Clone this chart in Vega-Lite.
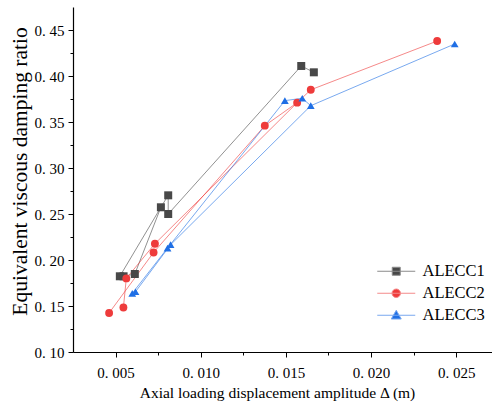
{
  "$schema": "https://vega.github.io/schema/vega-lite/v6.json",
  "autosize": {"type": "none"},
  "padding": {"left": 73, "top": 7, "right": 0, "bottom": 51},
  "width": 419,
  "height": 345,
  "background": "white",
  "config": {"view": {"stroke": null},
    "legend": {
      "title": null, "orient": "none", "legendX": 315, "legendY": 256,
      "labelFont": "Liberation Serif", "labelFontSize": 16.5, "labelColor": "black",
      "labelOffset": 18, "rowPadding": 5, "symbolSize": 100, "padding": 0,
      "symbolOpacity": 1, "symbolStrokeWidth": 1
    }},
  "data": {"values": [
    {"series": "ALECC1", "branch": "1b", "ord": 1, "pt": 1, "x": 0.00525, "y": 0.1823},
    {"series": "ALECC1", "branch": "1b", "ord": 2, "pt": 0, "x": 0.00766, "y": 0.2573},
    {"series": "ALECC1", "branch": "1a", "ord": 1, "pt": 1, "x": 0.00547, "y": 0.1823},
    {"series": "ALECC1", "branch": "1a", "ord": 2, "pt": 1, "x": 0.00613, "y": 0.1848},
    {"series": "ALECC1", "branch": "1a", "ord": 3, "pt": 1, "x": 0.00766, "y": 0.2573},
    {"series": "ALECC1", "branch": "1a", "ord": 4, "pt": 1, "x": 0.00809, "y": 0.2703},
    {"series": "ALECC1", "branch": "1a", "ord": 5, "pt": 1, "x": 0.00809, "y": 0.2500},
    {"series": "ALECC1", "branch": "1a", "ord": 6, "pt": 1, "x": 0.01590, "y": 0.4109},
    {"series": "ALECC1", "branch": "1a", "ord": 7, "pt": 1, "x": 0.01664, "y": 0.4040},
    {"series": "ALECC2", "branch": "2a", "ord": 1, "pt": 1, "x": 0.00546, "y": 0.1484},
    {"series": "ALECC2", "branch": "2a", "ord": 2, "pt": 1, "x": 0.00563, "y": 0.1800},
    {"series": "ALECC2", "branch": "2a", "ord": 3, "pt": 1, "x": 0.00731, "y": 0.2177},
    {"series": "ALECC2", "branch": "2a", "ord": 4, "pt": 1, "x": 0.01566, "y": 0.3710},
    {"series": "ALECC2", "branch": "2a", "ord": 5, "pt": 1, "x": 0.01646, "y": 0.3850},
    {"series": "ALECC2", "branch": "2a", "ord": 6, "pt": 1, "x": 0.02388, "y": 0.4380},
    {"series": "ALECC2", "branch": "2b", "ord": 1, "pt": 1, "x": 0.00462, "y": 0.1424},
    {"series": "ALECC2", "branch": "2b", "ord": 2, "pt": 1, "x": 0.00723, "y": 0.2082},
    {"series": "ALECC2", "branch": "2b", "ord": 3, "pt": 1, "x": 0.01376, "y": 0.3460},
    {"series": "ALECC2", "branch": "2b", "ord": 4, "pt": 0, "x": 0.01566, "y": 0.3710},
    {"series": "ALECC3", "branch": "3a", "ord": 1, "pt": 1, "x": 0.00598, "y": 0.1638},
    {"series": "ALECC3", "branch": "3a", "ord": 2, "pt": 1, "x": 0.00805, "y": 0.2130},
    {"series": "ALECC3", "branch": "3a", "ord": 3, "pt": 1, "x": 0.01494, "y": 0.3732},
    {"series": "ALECC3", "branch": "3a", "ord": 4, "pt": 1, "x": 0.01596, "y": 0.3758},
    {"series": "ALECC3", "branch": "3a", "ord": 5, "pt": 1, "x": 0.01646, "y": 0.3677},
    {"series": "ALECC3", "branch": "3a", "ord": 6, "pt": 1, "x": 0.02491, "y": 0.4348},
    {"series": "ALECC3", "branch": "3b", "ord": 1, "pt": 1, "x": 0.00617, "y": 0.1655},
    {"series": "ALECC3", "branch": "3b", "ord": 2, "pt": 1, "x": 0.00823, "y": 0.2166},
    {"series": "ALECC3", "branch": "3b", "ord": 3, "pt": 0, "x": 0.01646, "y": 0.3677}
  ]},
  "layer": [
    {
      "mark": {"type": "line", "strokeWidth": 1, "opacity": 0.6, "clip": true},
      "encoding": {
        "x": {"field": "x", "type": "quantitative",
          "scale": {"domain": [0.0025, 0.0271], "nice": false, "zero": false},
          "axis": {"orient": "bottom", "values": [0.0075, 0.0125, 0.0175, 0.0225], "labels": false, "domain": false, "grid": false, "tickSize": 3, "tickColor": "black", "title": null}},
        "y": {"field": "y", "type": "quantitative",
          "scale": {"domain": [0.10, 0.475], "nice": false, "zero": false},
          "axis": {"orient": "left", "values": [0.125, 0.175, 0.225, 0.275, 0.325, 0.375, 0.425], "labels": false, "domain": false, "grid": false, "tickSize": 3, "tickColor": "black", "title": null}},
        "color": {"field": "series", "type": "nominal",
          "scale": {"domain": ["ALECC1", "ALECC2", "ALECC3"], "range": ["#484848", "#ee3b3b", "#1f6fe5"]}, "legend": null},
        "detail": {"field": "branch"},
        "order": {"field": "ord", "type": "quantitative"}
      }
    },
    {
      "transform": [{"filter": "datum.pt == 1"}],
      "mark": {"type": "point", "filled": true, "opacity": 1},
      "encoding": {
        "x": {"field": "x", "type": "quantitative",
          "axis": {"orient": "bottom", "values": [0.005, 0.01, 0.015, 0.02, 0.025], "grid": false,
            "labelExpr": "replace(format(datum.value, '.3f'), '.', '. ')",
            "labelFont": "Liberation Serif", "labelFontSize": 15, "labelColor": "black", "labelPadding": 8,
            "tickSize": 5, "tickColor": "black", "domainColor": "black", "domainWidth": 1.2,
            "title": "Axial loading displacement amplitude Δ (m)",
            "titleFont": "Liberation Serif", "titleFontSize": 15.5, "titleFontWeight": "normal", "titleColor": "black",
            "titleX": 204, "titleY": 40, "titleBaseline": "middle", "titleAlign": "center"}},
        "y": {"field": "y", "type": "quantitative",
          "axis": {"orient": "left", "values": [0.1, 0.15, 0.2, 0.25, 0.3, 0.35, 0.4, 0.45], "grid": false,
            "labelExpr": "replace(format(datum.value, '.2f'), '.', '. ')",
            "labelFont": "Liberation Serif", "labelFontSize": 15, "labelColor": "black", "labelPadding": 4,
            "tickSize": 5, "tickColor": "black", "domainColor": "black", "domainWidth": 1.2,
            "title": "Equivalent viscous damping ratio",
            "titleFont": "Liberation Serif", "titleFontSize": 21.5, "titleFontWeight": "normal", "titleColor": "black",
            "titleX": -53, "titleY": 164, "titleBaseline": "middle", "titleAlign": "center", "titleAngle": -90}},
        "color": {"field": "series", "type": "nominal",
          "scale": {"domain": ["ALECC1", "ALECC2", "ALECC3"], "range": ["#484848", "#ee3b3b", "#1f6fe5"]}, "legend": null},
        "shape": {"field": "series", "type": "nominal",
          "scale": {"domain": ["ALECC1", "ALECC2", "ALECC3"], "range": ["square", "circle", "triangle-up"]}, "legend": null},
        "size": {"field": "series", "type": "ordinal",
          "scale": {"domain": ["ALECC1", "ALECC2", "ALECC3"], "range": [64, 60, 110]}, "legend": null}
      }
    },
    {
      "transform": [{"filter": "false"}],
      "mark": {"type": "point", "filled": true, "opacity": 1, "size": 100, "strokeWidth": 1},
      "encoding": {
        "x": {"field": "x", "type": "quantitative", "axis": null},
        "y": {"field": "y", "type": "quantitative", "axis": null},
        "color": {"field": "series", "type": "nominal",
          "scale": {"domain": ["ALECC1", "ALECC2", "ALECC3"], "range": ["#484848", "#ee3b3b", "#1f6fe5"]}},
        "stroke": {"field": "series", "type": "nominal",
          "scale": {"domain": ["ALECC1", "ALECC2", "ALECC3"], "range": ["#8a8a8a", "#f48a8a", "#79a8ef"]}},
        "shape": {"field": "series", "type": "nominal",
          "scale": {"domain": ["ALECC1", "ALECC2", "ALECC3"], "range": [
            "M-3.8,0H3.8M-0.8,-0.8H0.8V0.8H-0.8Z",
            "M-3.8,0H3.8M-0.85,0A0.85,0.85,0,1,0,0.85,0A0.85,0.85,0,1,0,-0.85,0Z",
            "M-3.8,0H3.8M0,-1L1,0.75L-1,0.75Z"]}}
      }
    }
  ],
  "resolve": {
    "axis": {"x": "independent", "y": "independent"},
    "scale": {"color": "independent", "shape": "independent", "size": "independent", "stroke": "independent"}
  }
}
